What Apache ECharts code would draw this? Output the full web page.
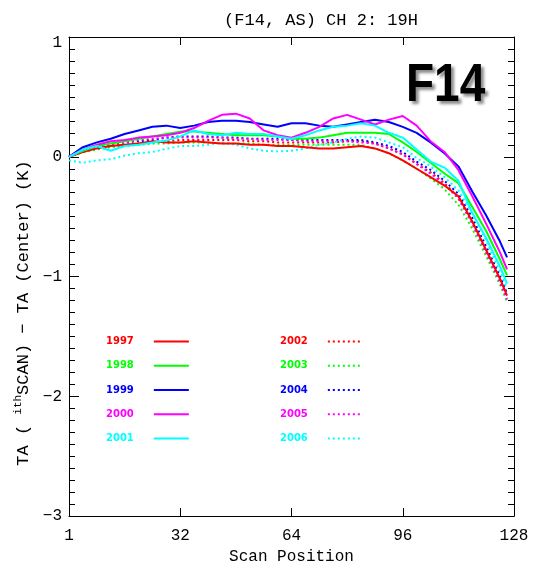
<!DOCTYPE html>
<html>
<head>
<meta charset="utf-8">
<script src="https://cdn.jsdelivr.net/npm/echarts@6/dist/echarts.min.js"></script>
<style>
html,body{margin:0;padding:0;background:#fff;}
#chart{width:538px;height:570px;}
</style>
</head>
<body>
<div id="chart"></div>
<script>
// Scan positions (axis units; left edge labelled "1")
var scanPos = [0,4,8,12,16,20,24,28,32,36,40,44,48,52,56,60,64,68,72,76,80,84,88,92,96,100,104,108,112,116,120,124,126];
var xTicks = [0,32,64,96,128];
var xTickLabels = ['1','32','64','96','128'];
var yTicks = [1,0,-1,-2,-3];

var y1997 = [0,0.04,0.07,0.09,0.10,0.11,0.13,0.12,0.12,0.13, 0.12,0.11,0.11,0.10,0.10,0.09,0.09,0.08,0.07,0.07, 0.08,0.09,0.07,0.03,-0.03,-0.10,-0.17,-0.24,-0.33,-0.54, -0.78,-1.02,-1.16];
var y1998 = [0,0.05,0.09,0.11,0.13,0.15,0.17,0.19,0.21,0.21, 0.20,0.19,0.18,0.18,0.18,0.17,0.15,0.15,0.16,0.18, 0.20,0.20,0.20,0.19,0.12,0.04,-0.05,-0.14,-0.22,-0.42, -0.62,-0.86,-0.99];
var y1999 = [0,0.08,0.12,0.15,0.19,0.22,0.25,0.26,0.24,0.26, 0.29,0.30,0.30,0.29,0.27,0.25,0.28,0.28,0.26,0.25, 0.27,0.29,0.31,0.29,0.25,0.20,0.12,0.03,-0.08,-0.29, -0.49,-0.71,-0.84];
var y2000 = [0,0.06,0.10,0.13,0.14,0.16,0.17,0.18,0.20,0.24, 0.30,0.35,0.36,0.32,0.22,0.18,0.16,0.20,0.25,0.32, 0.35,0.31,0.27,0.31,0.34,0.26,0.13,0.04,-0.11,-0.33, -0.56,-0.80,-0.94];
var y2001 = [0,0.06,0.09,0.05,0.09,0.10,0.12,0.135,0.17,0.22, 0.19,0.18,0.20,0.19,0.19,0.17,0.15,0.18,0.22,0.25, 0.26,0.28,0.26,0.20,0.16,0.06,-0.04,-0.09,-0.20,-0.47, -0.68,-0.92,-1.06];
var y2002 = [0,0.04,0.07,0.09,0.10,0.11,0.12,0.13,0.14,0.14, 0.14,0.14,0.14,0.13,0.13,0.12,0.12,0.12,0.12,0.12, 0.13,0.13,0.11,0.07,0.02,-0.06,-0.13,-0.22,-0.34,-0.55, -0.79,-1.03,-1.17];
var y2003 = [0,0.04,0.06,0.08,0.09,0.10,0.11,0.11,0.12,0.12, 0.12,0.11,0.11,0.11,0.10,0.10,0.10,0.10,0.10,0.10, 0.10,0.10,0.07,0.03,-0.03,-0.10,-0.18,-0.27,-0.40,-0.60, -0.83,-1.07,-1.21];
var y2004 = [0,0.05,0.08,0.10,0.12,0.13,0.14,0.16,0.17,0.17, 0.17,0.16,0.16,0.15,0.15,0.15,0.14,0.14,0.14,0.14, 0.14,0.14,0.12,0.09,0.04,-0.04,-0.11,-0.20,-0.31,-0.51, -0.75,-1.00,-1.14];
var y2005 = [0,0.05,0.08,0.10,0.12,0.14,0.15,0.16,0.16,0.16, 0.16,0.16,0.15,0.15,0.14,0.14,0.14,0.13,0.13,0.13, 0.13,0.12,0.11,0.07,0.02,-0.06,-0.14,-0.23,-0.35,-0.56, -0.80,-1.05,-1.19];
var y2006 = [-0.03,-0.05,-0.03,-0.02,0.01,0.03,0.04,0.066,0.09,0.09, 0.10,0.12,0.10,0.07,0.05,0.045,0.05,0.07,0.10,0.12, 0.15,0.17,0.16,0.12,0.08,-0.01,-0.08,-0.17,-0.28,-0.47, -0.70,-0.96,-1.10];

var solidYears = ['1997','1998','1999','2000','2001'];
var dottedYears = ['2002','2003','2004','2005','2006'];
var solidData = [y1997,y1998,y1999,y2000,y2001];
var dottedData = [y2002,y2003,y2004,y2005,y2006];
var colors = ['#ff0000','#00ff00','#0000ff','#ff00ff','#00ffff'];

function pairs(arr){ return arr.map(function(v,i){ return [scanPos[i], v]; }); }

var series = [];
dottedYears.forEach(function(name,i){
  series.push({name:name,type:'line',data:pairs(dottedData[i]),symbol:'none',showSymbol:false,
    lineStyle:{color:colors[i],width:2,type:[2,3]},itemStyle:{color:colors[i]},z:2,silent:true,animation:false});
});
solidYears.forEach(function(name,i){
  series.push({name:name,type:'line',data:pairs(solidData[i]),symbol:'none',showSymbol:false,
    lineStyle:{color:colors[i],width:2,type:'solid'},itemStyle:{color:colors[i]},z:3,silent:true,animation:false});
});

var mono = 'Liberation Mono';
var axisCol = '#000';
function yFmt(v){
  if (v === 1) return '{t|1}';
  return v < 0 ? '\u2212' + (-v) : String(v);
}
function xFmt(v){ var k = xTicks.indexOf(v); return k >= 0 ? xTickLabels[k] : ''; }

var legendText = {fontSize:10,fontWeight:'bold',fontFamily:'DejaVu Sans',padding:[0,15,0,0]};
function legendData(names){ return names.map(function(n,i){ return {name:n,textStyle:{color:colors[i]}}; }); }

function minorTick(){ return {show:true,splitNumber:10,length:6,lineStyle:{color:'#000',width:1}}; }

var chart = echarts.init(document.getElementById('chart'), null, {renderer:'canvas'});
chart.setOption({
  animation:false,
  backgroundColor:'#fff',
  grid:{left:69,right:24,top:37,bottom:49,show:false},
  legend:[
    {orient:'vertical',left:106,top:336,padding:0,itemWidth:35,itemHeight:14,itemGap:13,align:'right',selectedMode:false,
     itemStyle:{color:'transparent',borderWidth:0},textStyle:legendText,data:legendData(solidYears)},
    {orient:'vertical',left:280,top:336,padding:0,itemWidth:35,itemHeight:14,itemGap:13,align:'right',selectedMode:false,
     itemStyle:{color:'transparent',borderWidth:0},textStyle:legendText,data:legendData(dottedYears)}
  ],
  xAxis:[
    {type:'value',position:'bottom',min:0,max:128,interval:32,
     axisLine:{show:true,onZero:false,lineStyle:{color:axisCol,width:1}},
     axisTick:{show:true,inside:true,length:8,lineStyle:{color:axisCol}},
     axisLabel:{show:true,margin:12,fontFamily:mono,fontSize:16,color:'#000',formatter:xFmt},
     splitLine:{show:false},
     name:'Scan Position',nameLocation:'middle',nameGap:31,
     nameTextStyle:{fontFamily:mono,fontSize:16,color:'#000'}},
    {type:'value',position:'top',min:0,max:128,interval:32,
     axisLine:{show:true,onZero:false,lineStyle:{color:axisCol,width:1}},
     axisTick:{show:true,inside:true,length:8,lineStyle:{color:axisCol}},
     axisLabel:{show:false},splitLine:{show:false}}
  ],
  yAxis:[
    {type:'value',position:'left',min:-3,max:1,interval:1,
     axisLine:{show:true,onZero:false,lineStyle:{color:axisCol,width:1}},
     axisTick:{show:true,inside:true,length:10,lineStyle:{color:axisCol}},
     minorTick:minorTick(),
     axisLabel:{show:true,margin:7,fontFamily:mono,fontSize:16,color:'#000',formatter:yFmt,
       rich:{t:{fontFamily:mono,fontSize:16,color:'#000',padding:[12,0,0,0]}}},
     splitLine:{show:false},minorSplitLine:{show:false}},
    {type:'value',position:'right',min:-3,max:1,interval:1,
     axisLine:{show:true,onZero:false,lineStyle:{color:axisCol,width:1}},
     axisTick:{show:true,inside:true,length:10,lineStyle:{color:axisCol}},
     minorTick:minorTick(),
     axisLabel:{show:false},splitLine:{show:false},minorSplitLine:{show:false}}
  ],
  graphic:[
    {type:'text',x:321,y:20,silent:true,
     style:{text:'(F14, AS) CH 2: 19H',fontFamily:mono,fontSize:17,fill:'#000',align:'center',verticalAlign:'middle'}},
    {type:'text',x:406,y:60,scaleY:1.15,silent:true,
     style:{text:'F14',fontFamily:'Liberation Sans',fontWeight:'bold',fontSize:46,fill:'#000',
            align:'left',verticalAlign:'top',textShadowColor:'rgba(0,0,0,0.45)',textShadowOffsetX:3,textShadowOffsetY:3,textShadowBlur:3}},
    {type:'text',x:23,y:313,rotation:Math.PI/2,silent:true,
     style:{text:'TA ( {sup|ith}SCAN) \u2212 TA (Center) (K)',fontFamily:mono,fontSize:17,fill:'#000',
            align:'center',verticalAlign:'middle',
            rich:{sup:{fontFamily:mono,fontSize:11,fill:'#000',padding:[0,0,9,0]}}}}
  ],
  series:series
});
</script>
</body>
</html>
